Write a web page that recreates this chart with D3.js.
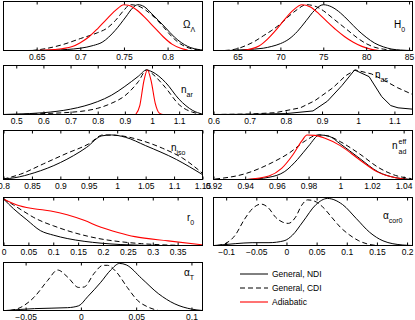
<!DOCTYPE html>
<html>
<head>
<meta charset="utf-8">
<script src="https://cdn.jsdelivr.net/npm/d3@7"></script>
<style>
  body { margin: 0; background: #fff; }
  svg { display: block; font-family: "Liberation Sans", Arial, sans-serif; }
</style>
</head>
<body>
<div class="chart"></div>
<script>
// posterior curves, [x, normalised probability]
const omegaNDI = [[0.64,0],[0.67,0.01],[0.70,0.05],[0.715,0.11],[0.725,0.18],[0.74,0.44],[0.752,0.73],[0.76,0.93],[0.766,1.0],[0.773,0.96],[0.782,0.8],[0.797,0.51],[0.808,0.29],[0.823,0.09],[0.838,0.015],[0.84,0.01]];
const omegaCDI = [[0.645,0],[0.66,0.04],[0.68,0.13],[0.70,0.26],[0.72,0.39],[0.73,0.48],[0.74,0.65],[0.75,0.88],[0.757,1.0],[0.765,0.98],[0.775,0.88],[0.785,0.72],[0.795,0.52],[0.805,0.3],[0.815,0.14],[0.825,0.05],[0.835,0.015],[0.84,0.01]];
const omegaAD = [[0.65,0],[0.67,0.02],[0.69,0.08],[0.70,0.17],[0.71,0.3],[0.72,0.48],[0.73,0.68],[0.74,0.87],[0.75,1.0],[0.755,0.99],[0.765,0.88],[0.775,0.7],[0.785,0.5],[0.795,0.3],[0.805,0.14],[0.815,0.05],[0.823,0.01]];

const h0NDI = [[64,0],[66,0.02],[68,0.05],[69,0.09],[70,0.15],[71,0.25],[72,0.42],[73,0.65],[74,0.88],[75,1.0],[76,0.95],[77,0.82],[78,0.64],[79,0.45],[80,0.29],[81,0.16],[82,0.08],[83,0.03],[84,0.01],[85.4,0]];
const h0CDI = [[63.5,0],[65,0.04],[66,0.11],[67,0.2],[68,0.32],[69,0.44],[70,0.58],[71,0.75],[72,0.9],[73,1.0],[74,0.97],[75,0.87],[76,0.72],[77,0.57],[78,0.42],[79,0.27],[80,0.15],[81,0.07],[82,0.03],[83,0.01],[84,0]];
const h0AD = [[65.5,0],[66.5,0.03],[67.5,0.1],[68.5,0.25],[69.5,0.45],[70.5,0.68],[71.5,0.88],[72.5,1.0],[73.5,0.95],[74.5,0.8],[75.5,0.62],[76.5,0.45],[77.5,0.3],[78.5,0.18],[79.5,0.09],[80.5,0.03],[81.5,0]];

const narNDI = [[0.45,0],[0.5,0.01],[0.6,0.04],[0.7,0.12],[0.75,0.19],[0.8,0.29],[0.85,0.43],[0.9,0.63],[0.95,0.86],[0.98,1.0],[1.0,0.96],[1.05,0.72],[1.1,0.34],[1.15,0.09],[1.185,0.01]];
const narCDI = [[0.5,0],[0.6,0.02],[0.7,0.05],[0.75,0.08],[0.8,0.14],[0.85,0.25],[0.9,0.42],[0.95,0.74],[0.98,1.0],[1.0,0.92],[1.05,0.6],[1.1,0.22],[1.15,0.05],[1.18,0.01]];
const narAD = [[0.94,0],[0.955,0.2],[0.97,0.75],[0.983,1.0],[0.997,0.75],[1.012,0.25],[1.027,0.03],[1.04,0]];

const nasNDI = [[0.6,0],[0.7,0.005],[0.8,0.02],[0.875,0.08],[0.915,0.3],[0.955,0.65],[0.99,1.0],[1.03,0.85],[1.065,0.4],[1.09,0.2],[1.11,0.15],[1.15,0.12]];
const nasCDI = [[0.6,0],[0.7,0.01],[0.77,0.04],[0.84,0.15],[0.88,0.31],[0.93,0.6],[0.965,0.87],[0.992,1.0],[1.037,0.91],[1.073,0.76],[1.109,0.6],[1.15,0.45]];

const nisoNDI = [[0.8,0.01],[0.82,0.04],[0.854,0.15],[0.9,0.38],[0.946,0.72],[0.973,0.98],[0.99,1.0],[1.014,0.95],[1.05,0.76],[1.104,0.45],[1.15,0.11]];
const nisoCDI = [[0.8,0.01],[0.83,0.12],[0.87,0.35],[0.91,0.58],[0.95,0.8],[0.975,1.0],[1.0,0.99],[1.044,0.87],[1.08,0.7],[1.115,0.48],[1.15,0.14]];

const nadNDI = [[0.941,0],[0.955,0.05],[0.965,0.18],[0.973,0.45],[0.98,0.75],[0.987,1.0],[0.993,0.97],[1.0,0.8],[1.012,0.48],[1.024,0.17],[1.035,0.04],[1.044,0.005]];
const nadCDI = [[0.921,0.01],[0.94,0.13],[0.957,0.38],[0.968,0.6],[0.978,0.87],[0.986,1.0],[0.992,0.98],[1.0,0.85],[1.012,0.58],[1.025,0.25],[1.035,0.09],[1.045,0.02]];
const nadAD = [[0.941,0],[0.955,0.08],[0.963,0.25],[0.97,0.55],[0.976,0.88],[0.979,1.0],[0.984,0.99],[0.99,0.93],[1.0,0.76],[1.012,0.45],[1.024,0.16],[1.035,0.04],[1.042,0.005]];

const r0NDI = [[0,1.0],[0.02,0.79],[0.047,0.55],[0.074,0.32],[0.101,0.22],[0.128,0.15],[0.162,0.09],[0.196,0.05],[0.236,0.02],[0.277,0.005],[0.32,0]];
const r0CDI = [[0,1.0],[0.02,0.87],[0.041,0.73],[0.061,0.6],[0.081,0.5],[0.101,0.42],[0.128,0.32],[0.169,0.2],[0.196,0.14],[0.236,0.08],[0.277,0.04],[0.318,0.015],[0.35,0.005]];
const r0AD = [[0,1.0],[0.027,0.87],[0.061,0.79],[0.095,0.74],[0.128,0.66],[0.162,0.54],[0.196,0.39],[0.23,0.28],[0.264,0.19],[0.331,0.1],[0.399,0.015]];

const acorNDI = [[-0.12,0],[-0.084,0.04],[-0.057,0.06],[-0.029,0.06],[-0.004,0.1],[0.01,0.22],[0.027,0.5],[0.049,0.87],[0.068,1.0],[0.093,0.87],[0.116,0.57],[0.138,0.28],[0.16,0.1],[0.193,0.01],[0.21,0]];
const acorCDI = [[-0.115,0],[-0.1,0.05],[-0.085,0.22],[-0.07,0.55],[-0.055,0.8],[-0.042,0.88],[-0.03,0.8],[-0.018,0.6],[-0.007,0.5],[0.003,0.47],[0.015,0.6],[0.025,0.85],[0.035,0.97],[0.045,0.95],[0.06,0.82],[0.075,0.6],[0.09,0.38],[0.105,0.22],[0.12,0.1],[0.135,0.03],[0.15,0]];

const atNDI = [[-0.068,0],[-0.042,0.04],[-0.012,0.06],[-0.002,0.1],[0.006,0.29],[0.018,0.6],[0.027,0.86],[0.035,1.0],[0.041,0.97],[0.055,0.68],[0.07,0.36],[0.085,0.14],[0.1,0.03],[0.11,0]];
const atCDI = [[-0.064,0],[-0.055,0.06],[-0.042,0.29],[-0.03,0.64],[-0.021,0.86],[-0.012,0.71],[-0.002,0.49],[0.003,0.5],[0.012,0.79],[0.02,0.96],[0.024,0.96],[0.032,0.82],[0.042,0.49],[0.051,0.22],[0.061,0.07],[0.07,0]];

// x ranges and tick labels
const omegaDomain = [0.612, 0.84], omegaTicks = [0.65, 0.7, 0.75, 0.8];
const h0Domain = [62.2, 85.4], h0Ticks = [65, 70, 75, 80, 85];
const narDomain = [0.453, 1.186], narTicks = [0.5, 0.6, 0.7, 0.8, 0.9, 1, 1.1];
const nasDomain = [0.6, 1.15], nasTicks = [0.6, 0.7, 0.8, 0.9, 1, 1.1];
const nisoDomain = [0.8, 1.15], nisoTicks = [0.8, 0.85, 0.9, 0.95, 1, 1.05, 1.1, 1.15];
const nadDomain = [0.92, 1.0456], nadTicks = [0.92, 0.94, 0.96, 0.98, 1, 1.02, 1.04];
const r0Domain = [0, 0.4], r0Ticks = [0, 0.05, 0.1, 0.15, 0.2, 0.25, 0.3, 0.35];
const acorDomain = [-0.121, 0.209], acorTicks = [-0.1, -0.05, 0, 0.05, 0.1, 0.15, 0.2];
const atDomain = [-0.07, 0.11], atTicks = [-0.05, 0, 0.05, 0.1];

const legendLabels = ["General, NDI", "General, CDI", "Adiabatic"];
const seriesKeys = ["ndi", "cdi", "ad"];

const styles = {
    ndi: { stroke: "#000", width: 1, dash: null },
    cdi: { stroke: "#000", width: 1, dash: "5,3" },
    ad: { stroke: "#f00", width: 1.1, dash: null }
};

const colX = [[3.5, 202.5], [213.5, 412.5]];
const rowY = [[1.5, 50.5], [65.5, 114.5], [130.5, 179.5], [197.5, 245.5], [262.5, 310.5]];

const panels = [
    { col: 0, row: 0, domain: omegaDomain, ticks: omegaTicks, ymax: 1.07, label: ["Ω", "Λ", null], lx: 183, ly: 28, curves: [[omegaCDI, "cdi"], [omegaNDI, "ndi"], [omegaAD, "ad"]] },
    { col: 1, row: 0, domain: h0Domain, ticks: h0Ticks, ymax: 1.07, label: ["H", "0", null], lx: 394, ly: 28, curves: [[h0CDI, "cdi"], [h0NDI, "ndi"], [h0AD, "ad"]] },
    { col: 0, row: 1, domain: narDomain, ticks: narTicks, ymax: 1.1, label: ["n", "ar", null], lx: 181, ly: 93, curves: [[narCDI, "cdi"], [narNDI, "ndi"], [narAD, "ad"]] },
    { col: 1, row: 1, domain: nasDomain, ticks: nasTicks, ymax: 1.1, label: ["n", "as", null], lx: 375, ly: 78, curves: [[nasCDI, "cdi"], [nasNDI, "ndi"]] },
    { col: 0, row: 2, domain: nisoDomain, ticks: nisoTicks, ymax: 1.1, label: ["n", "iso", null], lx: 171, ly: 151, curves: [[nisoCDI, "cdi"], [nisoNDI, "ndi"]] },
    { col: 1, row: 2, domain: nadDomain, ticks: nadTicks, ymax: 1.1, label: ["n", "ad", "eff"], lx: 392, ly: 149, curves: [[nadCDI, "cdi"], [nadNDI, "ndi"], [nadAD, "ad"]] },
    { col: 0, row: 3, domain: r0Domain, ticks: r0Ticks, ymax: 1.03, label: ["r", "0", null], lx: 187, ly: 221, curves: [[r0CDI, "cdi"], [r0NDI, "ndi"], [r0AD, "ad"]] },
    { col: 1, row: 3, domain: acorDomain, ticks: acorTicks, ymax: 1.02, label: ["α", "cor0", null], lx: 383, ly: 219, curves: [[acorCDI, "cdi"], [acorNDI, "ndi"]] },
    { col: 0, row: 4, domain: atDomain, ticks: atTicks, ymax: 1.02, label: ["α", "T", null], lx: 184, ly: 276, curves: [[atCDI, "cdi"], [atNDI, "ndi"]] }
];

const svg = d3.select(".chart").append("svg")
    .attr("width", 415)
    .attr("height", 320);

const fmt = d3.format("~g");

panels.forEach((p, i) => {
    const [x0, x1] = colX[p.col];
    const [y0, y1] = rowY[p.row];

    const x = d3.scaleLinear().domain(p.domain).range([x0, x1]);
    const y = d3.scaleLinear().domain([0, p.ymax]).range([y1, y0]);

    const g = svg.append("g");

    g.append("clipPath").attr("id", "clip" + i)
        .append("rect")
        .attr("x", x0).attr("y", y0 - 2)
        .attr("width", x1 - x0).attr("height", y1 - y0 + 2);

    const line = d3.line()
        .x(d => x(d[0]))
        .y(d => y(d[1]))
        .curve(p.label[1] === "as" ? d3.curveLinear : d3.curveMonotoneX);

    // curves
    g.append("g").attr("clip-path", `url(#clip${i})`)
        .selectAll("path")
        .data(p.curves)
        .join("path")
        .attr("d", d => line(d[0]))
        .attr("fill", "none")
        .attr("stroke", d => styles[d[1]].stroke)
        .attr("stroke-width", d => styles[d[1]].width)
        .attr("stroke-dasharray", d => styles[d[1]].dash);

    // bottom axis with labels, ticks pointing in
    const bottom = g.append("g")
        .attr("transform", `translate(0,${y1})`)
        .call(d3.axisBottom(x).tickValues(p.ticks).tickSize(-3).tickSizeOuter(0).tickPadding(3).tickFormat(fmt));
    bottom.select(".domain").remove();
    bottom.selectAll("text").attr("font-size", 8.5).attr("fill", "#000")
        .attr("font-family", '"Liberation Sans", Arial, sans-serif');

    const top = g.append("g")
        .attr("transform", `translate(0,${y0})`)
        .call(d3.axisTop(x).tickValues(p.ticks).tickSize(-3).tickSizeOuter(0).tickFormat(""));
    top.select(".domain").remove();

    // frame
    g.append("rect")
        .attr("x", x0).attr("y", y0)
        .attr("width", x1 - x0).attr("height", y1 - y0)
        .attr("fill", "none").attr("stroke", "#000").attr("stroke-width", 1);

    // parameter name
    const t = g.append("text")
        .attr("x", p.lx).attr("y", p.ly)
        .attr("font-size", 10);
    t.append("tspan").text(p.label[0]);
    if (p.label[2]) {
        const sx = p.lx + 6.5;
        t.append("tspan").attr("x", sx).attr("dy", -5).attr("font-size", 7).text(p.label[2]);
        t.append("tspan").attr("x", sx).attr("dy", 10).attr("font-size", 7).text(p.label[1]);
    } else {
        t.append("tspan").attr("dy", 4).attr("font-size", 7).text(p.label[1]);
    }
});

// legend
const legend = svg.append("g").attr("transform", "translate(240,274)");

const items = legend.selectAll("g")
    .data(seriesKeys)
    .join("g")
    .attr("transform", (d, i) => `translate(0,${i * 14})`);

items.append("line")
    .attr("x1", 0).attr("x2", 28)
    .attr("stroke", d => styles[d].stroke)
    .attr("stroke-width", d => styles[d].width)
    .attr("stroke-dasharray", d => styles[d].dash);

items.append("text")
    .attr("x", 32).attr("y", 3)
    .attr("font-size", 8.5)
    .text((d, i) => legendLabels[i]);
</script>
</body>
</html>
